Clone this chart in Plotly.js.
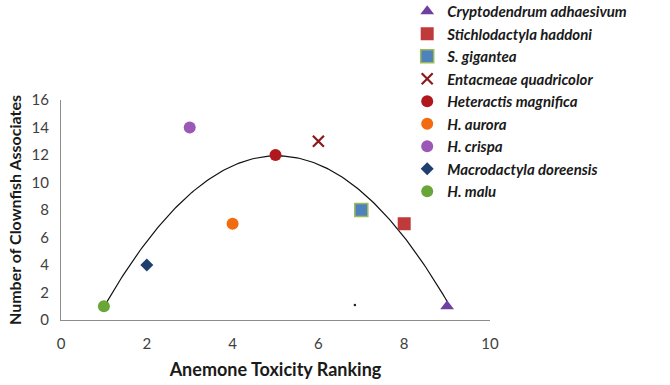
<!DOCTYPE html>
<html>
<head>
<meta charset="utf-8">
<script src="https://cdn.plot.ly/plotly-3.0.1.min.js"></script>
<style>html,body{margin:0;padding:0;background:#fff;}#chart{width:670px;height:385px;}</style>
</head>
<body>
<div id="chart"></div>
<script>
// Data
const species = ["Cryptodendrum adhaesivum", "Stichlodactyla haddoni", "S. gigantea", "Entacmeae quadricolor",
  "Heteractis magnifica", "H. aurora", "H. crispa", "Macrodactyla doreensis", "H. malu"];
const toxicity = [9, 8, 7, 6, 5, 4, 3, 2, 1];
const clownfish = [1, 7, 8, 13, 12, 7, 14, 4, 1];
const symbols = ["triangle-up", "square", "square", "x-thin-open", "circle", "circle", "circle", "diamond", "circle"];
const colors = ["#7040a0", "#c0393b", "#4f81bd", "#8b1a1a", "#b0181e", "#f26b10", "#9b59b6", "#1f3f6f", "#6aa537"];
const lineColors = ["#7040a0", "#c0393b", "#9bbb59", "#8b1a1a", "#b0181e", "#f26b10", "#9b59b6", "#1f3f6f", "#6aa537"];
const sizes = [12, 13, 13, 11, 12, 12, 12, 10, 12];
// stray dot visible in the reference
const strayX = [6.85];
const strayY = [1.1];

// Quadratic least-squares trendline computed from data
function quadFit(xs, ys) {
  let S = [0,0,0,0,0], T = [0,0,0];
  for (let i = 0; i < xs.length; i++) {
    let p = 1;
    for (let k = 0; k < 5; k++) { S[k] += p; if (k < 3) T[k] += p * ys[i]; p *= xs[i]; }
  }
  const M = [[S[0],S[1],S[2],T[0]],[S[1],S[2],S[3],T[1]],[S[2],S[3],S[4],T[2]]];
  for (let i = 0; i < 3; i++) {
    for (let j = i+1; j < 3; j++) {
      const f = M[j][i] / M[i][i];
      for (let k = i; k < 4; k++) M[j][k] -= f * M[i][k];
    }
  }
  const c = [0,0,0];
  for (let i = 2; i >= 0; i--) {
    let s = M[i][3];
    for (let k = i+1; k < 3; k++) s -= M[i][k] * c[k];
    c[i] = s / M[i][i];
  }
  return c;
}
const coef = quadFit(toxicity, clownfish);
const xmin = Math.min(...toxicity), xmax = Math.max(...toxicity);
const fitX = [], fitY = [];
for (let i = 0; i <= 160; i++) {
  const x = xmin + (xmax - xmin) * i / 160;
  fitX.push(x); fitY.push(coef[0] + coef[1]*x + coef[2]*x*x);
}

const traces = [{
  x: fitX, y: fitY, mode: "lines", line: {color: "#111", width: 1.2},
  showlegend: false, hoverinfo: "skip"
}, {
  x: strayX, y: strayY, mode: "markers", marker: {color: "#222", size: 2.5},
  showlegend: false, hoverinfo: "skip"
}];
for (let i = 0; i < species.length; i++) {
  const isX = symbols[i].startsWith("x");
  traces.push({
    x: [toxicity[i]], y: [clownfish[i]], name: species[i], mode: "markers",
    marker: {
      symbol: symbols[i], size: sizes[i], color: colors[i],
      line: {color: lineColors[i], width: isX ? 2.2 : (i === 2 ? 1.5 : 0)}
    },
    legendgroup: "g" + i
  });
}

const layout = {
  width: 670, height: 385,
  margin: {l: 61, r: 180, t: 100, b: 65, autoexpand: false},
  paper_bgcolor: "#fff", plot_bgcolor: "#fff",
  font: {family: "Lato, 'Open Sans', sans-serif", color: "#404040"},
  xaxis: {
    range: [0, 10], tickvals: [0, 2, 4, 6, 8, 10], showgrid: false, zeroline: false,
    showline: true, linecolor: "#8c8c8c", linewidth: 1,
    ticks: "outside", ticklen: 10, tickcolor: "rgba(0,0,0,0)",
    tickfont: {size: 15, color: "#404040"},
    title: {text: "Anemone Toxicity Ranking", font: {size: 18, color: "#1a1a1a", weight: "bold"}, standoff: 12}
  },
  yaxis: {
    range: [0, 16], tickvals: [0, 2, 4, 6, 8, 10, 12, 14, 16], showgrid: false, zeroline: false,
    showline: true, linecolor: "#8c8c8c", linewidth: 1,
    ticks: "outside", ticklen: 8, tickcolor: "rgba(0,0,0,0)",
    tickfont: {size: 15, color: "#404040"},
    title: {text: "Number of Clownfish Associates", font: {size: 16, color: "#1a1a1a", weight: "bold"}, standoff: 5}
  },
  showlegend: true,
  legend: {
    x: 0.807, xanchor: "left", y: 1.477, yanchor: "top",
    bgcolor: "rgba(0,0,0,0)", traceorder: "normal", tracegroupgap: 0,
    maxheight: 1,
    font: {size: 15, color: "#1a1a1a", style: "italic", weight: "bold", family: "Lato, 'Open Sans', sans-serif"},
    itemwidth: 30
  }
};
Plotly.newPlot("chart", traces, layout, {displayModeBar: false, staticPlot: true});
</script>
</body>
</html>
